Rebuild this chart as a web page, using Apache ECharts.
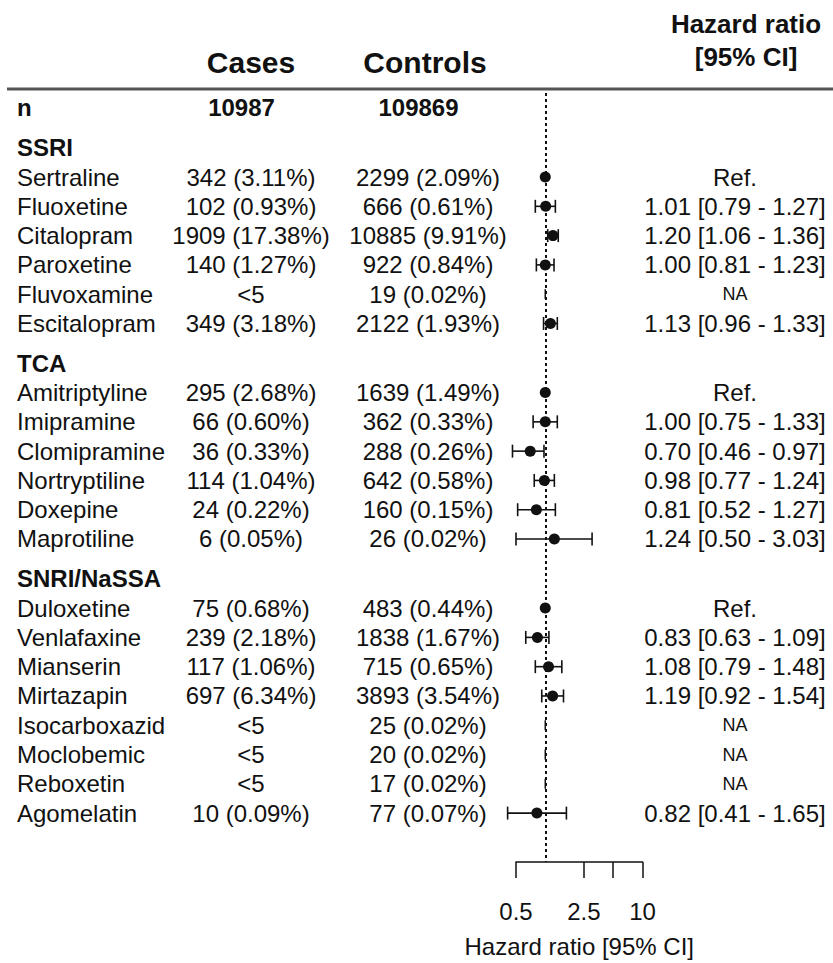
<!DOCTYPE html>
<html>
<head>
<meta charset="utf-8">
<script src="https://cdn.jsdelivr.net/npm/echarts@6.0.0/dist/echarts.min.js"></script>
<style>
  html, body { margin: 0; padding: 0; background: #fff; }
  #chart { width: 833px; height: 963px; }
</style>
</head>
<body>
<div id="chart"></div>
<script>
// ==================== DATA ====================
const nCases = '10987';
const nControls = '109869';
const classNames = ['SSRI', 'TCA', 'SNRI/NaSSA'];
const classSizes = [6, 6, 8];
const drugs = [
  'Sertraline', 'Fluoxetine', 'Citalopram', 'Paroxetine', 'Fluvoxamine', 'Escitalopram',
  'Amitriptyline', 'Imipramine', 'Clomipramine', 'Nortryptiline', 'Doxepine', 'Maprotiline',
  'Duloxetine', 'Venlafaxine', 'Mianserin', 'Mirtazapin', 'Isocarboxazid', 'Moclobemic', 'Reboxetin', 'Agomelatin'
];
const cases = [
  '342 (3.11%)', '102 (0.93%)', '1909 (17.38%)', '140 (1.27%)', '<5', '349 (3.18%)',
  '295 (2.68%)', '66 (0.60%)', '36 (0.33%)', '114 (1.04%)', '24 (0.22%)', '6 (0.05%)',
  '75 (0.68%)', '239 (2.18%)', '117 (1.06%)', '697 (6.34%)', '<5', '<5', '<5', '10 (0.09%)'
];
const controls = [
  '2299 (2.09%)', '666 (0.61%)', '10885 (9.91%)', '922 (0.84%)', '19 (0.02%)', '2122 (1.93%)',
  '1639 (1.49%)', '362 (0.33%)', '288 (0.26%)', '642 (0.58%)', '160 (0.15%)', '26 (0.02%)',
  '483 (0.44%)', '1838 (1.67%)', '715 (0.65%)', '3893 (3.54%)', '25 (0.02%)', '20 (0.02%)', '17 (0.02%)', '77 (0.07%)'
];
// reference drug of each class has HR 1 and no interval; null = not estimable
const isRef = [true, false, false, false, false, false, true, false, false, false, false, false,
  true, false, false, false, false, false, false, false];
const hr = [1, 1.01, 1.20, 1.00, null, 1.13, 1, 1.00, 0.70, 0.98, 0.81, 1.24,
  1, 0.83, 1.08, 1.19, null, null, null, 0.82];
const ciLow = [null, 0.79, 1.06, 0.81, null, 0.96, null, 0.75, 0.46, 0.77, 0.52, 0.50,
  null, 0.63, 0.79, 0.92, null, null, null, 0.41];
const ciHigh = [null, 1.27, 1.36, 1.23, null, 1.33, null, 1.33, 0.97, 1.24, 1.27, 3.03,
  null, 1.09, 1.48, 1.54, null, null, null, 1.65];
const xTicks = [0.5, 2.5, 5, 10];
const xLabels = [0.5, 2.5, 10];
const refLine = 1;

// ==================== ROW LAYOUT ====================
const GAP = 0.36; // extra space before each class header
const rows = [{ pos: 0, name: '{b|n}', cs: '{nb|' + nCases + '}', ct: '{nb|' + nControls + '}', hr: '' }];
const points = [];
let k = 0, pos = 0;
classNames.forEach((cls, g) => {
  pos += 1 + GAP;
  rows.push({ pos, name: '{b|' + cls + '}', cs: '', ct: '', hr: '' });
  for (let j = 0; j < classSizes[g]; j++, k++) {
    pos += 1;
    let txt;
    if (isRef[k]) txt = 'Ref.';
    else if (hr[k] == null) txt = '{na|NA}';
    else txt = hr[k].toFixed(2) + ' [' + ciLow[k].toFixed(2) + ' - ' + ciHigh[k].toFixed(2) + ']';
    rows.push({ pos, name: drugs[k], cs: cases[k], ct: controls[k], hr: txt });
    points.push([hr[k] == null ? refLine : hr[k], pos, ciLow[k], ciHigh[k], hr[k] == null ? 1 : 0]);
  }
});
const lastPos = pos;
const rowMap = {};
rows.forEach(r => { rowMap[r.pos.toFixed(3)] = r; });
const rowPos = rows.map(r => r.pos);

// ==================== CHART ====================
const FONT = '"Liberation Sans", Arial, Helvetica, sans-serif';
const INK = '#111';
const rich = {
  b: { fontFamily: FONT, fontWeight: 'bold', fontSize: 24, color: INK },
  nb: { fontFamily: FONT, fontWeight: 'bold', fontSize: 24, color: INK, padding: [0, 19, 0, 0] },
  na: { fontFamily: FONT, fontSize: 18, color: INK }
};

// one invisible y axis per text column
function textAxis(field, position, offset, align) {
  return {
    type: 'value', inverse: true, min: -0.51, max: lastPos + 1.67,
    position, offset,
    axisLine: { show: false }, axisTick: { show: false }, splitLine: { show: false },
    axisLabel: {
      customValues: rowPos, margin: 0, align, verticalAlign: 'middle',
      fontFamily: FONT, fontSize: 24, color: INK, rich,
      formatter: v => { const r = rowMap[(+v).toFixed(3)]; return r ? r[field] : ''; }
    }
  };
}

const headStyle = (text, size) => ({ text, font: 'bold ' + size + 'px ' + FONT, fill: INK, align: 'center', verticalAlign: 'middle' });

const chart = echarts.init(document.getElementById('chart'), null, { renderer: 'svg' });
chart.setOption({
  backgroundColor: '#fff',
  animation: false,
  grid: { left: 516, right: 190.5, top: 93, bottom: 100 },
  xAxis: {
    type: 'log', logBase: 10, min: 0.5, max: 10,
    name: 'Hazard ratio [95% CI]', nameLocation: 'middle', nameGap: 72,
    nameTextStyle: { fontFamily: FONT, fontSize: 24, color: INK },
    axisLine: { show: true, onZero: false, lineStyle: { color: INK, width: 1.5 } },
    axisTick: { show: true, inside: false, length: 16, customValues: xTicks, lineStyle: { color: INK, width: 1.5 } },
    axisLabel: { customValues: xLabels, margin: 37, fontFamily: FONT, fontSize: 24, color: INK, formatter: v => String(v) },
    splitLine: { show: false }
  },
  yAxis: [
    textAxis('name', 'left', 499, 'left'),
    textAxis('cs', 'left', 265, 'center'),
    textAxis('ct', 'left', 88, 'center'),
    textAxis('hr', 'right', 92.5, 'center')
  ],
  graphic: [
    { type: 'text', x: 251, y: 62, style: headStyle('Cases', 30) },
    { type: 'text', x: 425, y: 62, style: headStyle('Controls', 30) },
    { type: 'text', x: 746, y: 24, style: headStyle('Hazard ratio', 26) },
    { type: 'text', x: 746, y: 57, style: headStyle('[95% CI]', 26) },
    { type: 'line', shape: { x1: 7, y1: 89, x2: 833, y2: 89 }, style: { stroke: '#555', lineWidth: 3 } }
  ],
  series: [
    {
      type: 'line', data: [], silent: true,
      markLine: {
        silent: true, symbol: 'none', label: { show: false },
        lineStyle: { color: INK, width: 2, type: [3, 3] },
        data: [{ xAxis: refLine }]
      }
    },
    {
      type: 'custom', yAxisIndex: 0, data: points, clip: false,
      encode: { x: [0, 2, 3], y: 1 },
      renderItem: (params, api) => {
        const y = api.value(1);
        const c = api.coord([api.value(0), y]);
        const kids = [];
        const style = { stroke: INK, lineWidth: 1.6, fill: null };
        if (api.value(4) === 1) {
          kids.push({ type: 'line', shape: { x1: c[0], y1: c[1] - 5, x2: c[0], y2: c[1] + 5 }, style: { stroke: INK, lineWidth: 1.5 } });
          return { type: 'group', children: kids };
        }
        const lo = api.value(2), hi = api.value(3);
        if (lo != null && !isNaN(lo)) {
          const a = api.coord([lo, y]), b = api.coord([hi, y]);
          kids.push({ type: 'line', shape: { x1: a[0], y1: a[1], x2: b[0], y2: b[1] }, style });
          kids.push({ type: 'line', shape: { x1: a[0], y1: a[1] - 6.5, x2: a[0], y2: a[1] + 6.5 }, style });
          kids.push({ type: 'line', shape: { x1: b[0], y1: b[1] - 6.5, x2: b[0], y2: b[1] + 6.5 }, style });
        }
        kids.push({ type: 'circle', shape: { cx: c[0], cy: c[1], r: 5.5 }, style: { fill: INK } });
        return { type: 'group', children: kids };
      }
    }
  ]
});
</script>
</body>
</html>
